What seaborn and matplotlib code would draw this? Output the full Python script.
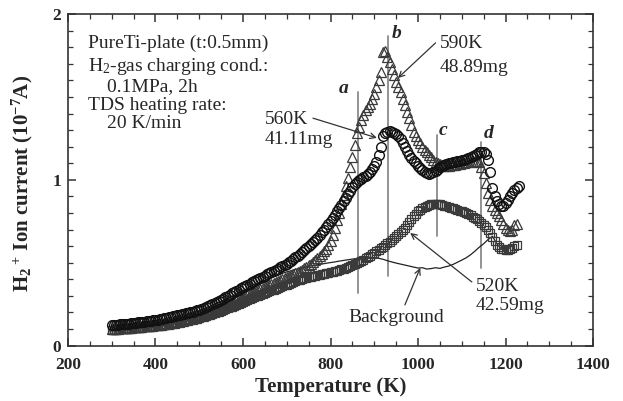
import numpy as np
import pandas as pd
import matplotlib
matplotlib.use('Agg')
import matplotlib.pyplot as plt
import seaborn as sns

# temperature grid (K), one reading every 5 K
temps = [300, 305, 310, 315, 320, 325, 330, 335, 340, 345,
         350, 355, 360, 365, 370, 375, 380, 385, 390, 395,
         400, 405, 410, 415, 420, 425, 430, 435, 440, 445,
         450, 455, 460, 465, 470, 475, 480, 485, 490, 495,
         500, 505, 510, 515, 520, 525, 530, 535, 540, 545,
         550, 555, 560, 565, 570, 575, 580, 585, 590, 595,
         600, 605, 610, 615, 620, 625, 630, 635, 640, 645,
         650, 655, 660, 665, 670, 675, 680, 685, 690, 695,
         700, 705, 710, 715, 720, 725, 730, 735, 740, 745,
         750, 755, 760, 765, 770, 775, 780, 785, 790, 795,
         800, 805, 810, 815, 820, 825, 830, 835, 840, 845,
         850, 855, 860, 865, 870, 875, 880, 885, 890, 895,
         900, 905, 910, 915, 920, 925, 930, 935, 940, 945,
         950, 955, 960, 965, 970, 975, 980, 985, 990, 995,
         1000, 1005, 1010, 1015, 1020, 1025, 1030, 1035, 1040, 1045,
         1050, 1055, 1060, 1065, 1070, 1075, 1080, 1085, 1090, 1095,
         1100, 1105, 1110, 1115, 1120, 1125, 1130, 1135, 1140, 1145,
         1150, 1155, 1160, 1165, 1170, 1175, 1180, 1185, 1190, 1195,
         1200, 1205, 1210, 1215, 1220, 1225, 1230]

# H2+ ion current (1e-7 A), 560K / 41.11mg specimen (circles)
circ_560 = [0.125, 0.125, 0.125, 0.126, 0.128, 0.129, 0.130, 0.131, 0.133, 0.134,
            0.136, 0.138, 0.140, 0.142, 0.143, 0.145, 0.147, 0.149, 0.151, 0.153,
            0.155, 0.157, 0.160, 0.162, 0.165, 0.167, 0.170, 0.173, 0.176, 0.179,
            0.182, 0.185, 0.188, 0.191, 0.195, 0.198, 0.202, 0.206, 0.210, 0.214,
            0.218, 0.222, 0.227, 0.232, 0.238, 0.244, 0.250, 0.256, 0.263, 0.270,
            0.277, 0.284, 0.292, 0.300, 0.307, 0.315, 0.322, 0.330, 0.337, 0.345,
            0.352, 0.360, 0.367, 0.374, 0.381, 0.388, 0.395, 0.402, 0.409, 0.416,
            0.423, 0.430, 0.437, 0.444, 0.451, 0.458, 0.465, 0.472, 0.480, 0.487,
            0.495, 0.503, 0.512, 0.522, 0.532, 0.543, 0.555, 0.566, 0.578, 0.589,
            0.600, 0.612, 0.625, 0.638, 0.652, 0.667, 0.683, 0.699, 0.716, 0.733,
            0.750, 0.770, 0.790, 0.810, 0.830, 0.850, 0.870, 0.892, 0.915, 0.935,
            0.955, 0.975, 0.990, 0.998, 1.005, 1.015, 1.025, 1.037, 1.050, 1.067,
            1.085, 1.110, 1.150, 1.200, 1.265, 1.280, 1.290, 1.292, 1.290, 1.284,
            1.275, 1.262, 1.245, 1.225, 1.200, 1.175, 1.150, 1.132, 1.115, 1.100,
            1.085, 1.072, 1.060, 1.050, 1.040, 1.038, 1.040, 1.047, 1.055, 1.065,
            1.075, 1.083, 1.090, 1.095, 1.100, 1.104, 1.108, 1.110, 1.112, 1.115,
            1.118, 1.121, 1.125, 1.130, 1.135, 1.142, 1.150, 1.158, 1.165, 1.168,
            1.170, 1.155, 1.120, 1.050, 0.950, 0.900, 0.870, 0.855, 0.840, 0.845,
            0.860, 0.880, 0.900, 0.920, 0.940, 0.950, 0.960]

# 590K / 48.89mg specimen (triangles)
tri_590 = [0.100, 0.101, 0.102, 0.103, 0.104, 0.105, 0.106, 0.107, 0.108, 0.109,
           0.110, 0.111, 0.113, 0.114, 0.116, 0.117, 0.119, 0.120, 0.122, 0.123,
           0.125, 0.127, 0.129, 0.131, 0.133, 0.135, 0.138, 0.140, 0.143, 0.146,
           0.149, 0.152, 0.155, 0.158, 0.162, 0.165, 0.169, 0.173, 0.177, 0.181,
           0.185, 0.189, 0.194, 0.198, 0.203, 0.208, 0.213, 0.218, 0.223, 0.228,
           0.234, 0.239, 0.245, 0.250, 0.256, 0.262, 0.268, 0.274, 0.280, 0.286,
           0.292, 0.298, 0.304, 0.310, 0.316, 0.322, 0.328, 0.334, 0.340, 0.346,
           0.352, 0.358, 0.364, 0.370, 0.376, 0.382, 0.388, 0.394, 0.400, 0.406,
           0.412, 0.418, 0.424, 0.430, 0.436, 0.443, 0.450, 0.458, 0.466, 0.475,
           0.484, 0.494, 0.505, 0.516, 0.528, 0.541, 0.555, 0.570, 0.585, 0.605,
           0.630, 0.665, 0.710, 0.755, 0.800, 0.855, 0.910, 0.960, 1.010, 1.075,
           1.140, 1.210, 1.280, 1.320, 1.360, 1.390, 1.420, 1.440, 1.460, 1.490,
           1.520, 1.560, 1.600, 1.650, 1.770, 1.780, 1.740, 1.710, 1.670, 1.630,
           1.590, 1.560, 1.530, 1.490, 1.450, 1.410, 1.370, 1.330, 1.290, 1.265,
           1.240, 1.220, 1.200, 1.182, 1.165, 1.150, 1.135, 1.122, 1.110, 1.102,
           1.095, 1.090, 1.085, 1.084, 1.085, 1.087, 1.090, 1.092, 1.095, 1.097,
           1.100, 1.102, 1.105, 1.107, 1.110, 1.112, 1.115, 1.115, 1.110, 1.080,
           1.040, 0.980, 0.920, 0.880, 0.840, 0.820, 0.800, 0.780, 0.760, 0.735,
           0.710, 0.700, 0.690, 0.700, 0.730, 0.735]

# 520K / 42.59mg specimen (squares)
sq_520 = [0.095, 0.096, 0.097, 0.098, 0.099, 0.100, 0.101, 0.102, 0.103, 0.104,
          0.105, 0.106, 0.107, 0.108, 0.109, 0.110, 0.111, 0.112, 0.113, 0.114,
          0.116, 0.117, 0.119, 0.120, 0.122, 0.124, 0.126, 0.128, 0.130, 0.132,
          0.135, 0.137, 0.140, 0.143, 0.146, 0.149, 0.152, 0.155, 0.159, 0.162,
          0.166, 0.170, 0.174, 0.178, 0.182, 0.186, 0.191, 0.195, 0.200, 0.205,
          0.210, 0.215, 0.220, 0.225, 0.231, 0.236, 0.242, 0.247, 0.253, 0.258,
          0.264, 0.269, 0.275, 0.280, 0.286, 0.291, 0.297, 0.302, 0.308, 0.313,
          0.318, 0.323, 0.328, 0.333, 0.338, 0.343, 0.348, 0.353, 0.358, 0.363,
          0.368, 0.373, 0.378, 0.383, 0.388, 0.393, 0.398, 0.402, 0.406, 0.410,
          0.413, 0.417, 0.420, 0.423, 0.426, 0.429, 0.432, 0.435, 0.438, 0.441,
          0.444, 0.447, 0.450, 0.453, 0.457, 0.461, 0.465, 0.470, 0.475, 0.480,
          0.486, 0.492, 0.498, 0.505, 0.512, 0.519, 0.527, 0.535, 0.543, 0.551,
          0.560, 0.569, 0.578, 0.587, 0.597, 0.607, 0.617, 0.627, 0.638, 0.649,
          0.660, 0.672, 0.685, 0.698, 0.712, 0.728, 0.745, 0.762, 0.780, 0.795,
          0.810, 0.820, 0.830, 0.838, 0.845, 0.849, 0.853, 0.854, 0.855, 0.854,
          0.852, 0.849, 0.845, 0.841, 0.837, 0.833, 0.829, 0.825, 0.820, 0.815,
          0.810, 0.804, 0.798, 0.792, 0.785, 0.778, 0.770, 0.761, 0.752, 0.741,
          0.730, 0.716, 0.700, 0.680, 0.655, 0.632, 0.610, 0.597, 0.585, 0.580,
          0.575, 0.576, 0.580, 0.588, 0.600, 0.610]

# background run without specimen (plain line, every 10 K)
backgr = [0.110, 0.112, 0.114, 0.116, 0.118, 0.120, 0.123, 0.126, 0.130, 0.134,
          0.138, 0.143, 0.148, 0.154, 0.160, 0.167, 0.175, 0.183, 0.192, 0.201,
          0.211, 0.221, 0.232, 0.243, 0.255, 0.267, 0.279, 0.291, 0.303, 0.316,
          0.328, 0.341, 0.354, 0.367, 0.380, 0.392, 0.404, 0.415, 0.426, 0.436,
          0.445, 0.452, 0.460, 0.466, 0.472, 0.478, 0.483, 0.488, 0.492, 0.497,
          0.501, 0.505, 0.510, 0.514, 0.518, 0.522, 0.526, 0.530, 0.532, 0.533,
          0.530, 0.527, 0.521, 0.512, 0.505, 0.498, 0.492, 0.486, 0.480, 0.474,
          0.468, 0.470, 0.462, 0.465, 0.470, 0.466, 0.474, 0.480, 0.490, 0.503,
          0.516, 0.530, 0.548, 0.570, 0.594, 0.615, 0.640, 0.660, 0.615, 0.585,
          0.578, 0.590]
bg_temps = temps[::2][:len(backgr)]

# peak marker lines a-d: position, bottom, top
peak_names = ['a', 'b', 'c', 'd']
peak_T = [863, 931, 1043, 1145]
peak_lo = [0.32, 0.42, 0.66, 0.47]
peak_hi = [1.53, 1.87, 1.27, 1.23]
# where the letter sits next to the top of each line
label_T = [829, 952, 1057, 1162]
label_y = [1.55, 1.885, 1.30, 1.28]

sns.set_style('ticks')
plt.rcParams['font.family'] = ['Liberation Serif', 'DejaVu Serif']
plt.rcParams['mathtext.fontset'] = 'custom'
plt.rcParams['mathtext.rm'] = 'Liberation Serif'
plt.rcParams['mathtext.it'] = 'Liberation Serif:italic'
plt.rcParams['mathtext.bf'] = 'Liberation Serif:bold'

fig = plt.figure(figsize=(6.23, 4.01), dpi=100)
ax = fig.add_axes([0.109, 0.138, 0.843, 0.827])

# vertical peak lines go underneath
for T, lo, hi in zip(peak_T, peak_lo, peak_hi):
    ax.plot([T, T], [lo, hi], color='#8a8a8a', lw=1.3, zorder=1)

sns.lineplot(x=bg_temps, y=backgr, color='#222222', lw=0.9, ax=ax, zorder=2)

mk = dict(linestyle='', markerfacecolor='none', ax=ax, zorder=3)
sns.lineplot(x=temps[:len(sq_520)], y=sq_520, marker='s', markersize=6,
             markeredgewidth=0.9, markeredgecolor='#3a3a3a', **mk)
sns.lineplot(x=temps[:len(tri_590)], y=tri_590, marker='^', markersize=7,
             markeredgewidth=0.9, markeredgecolor='#3a3a3a', **mk)
sns.lineplot(x=temps, y=circ_560, marker='o', markersize=7,
             markeredgewidth=1.0, markeredgecolor='#111111', **mk)

ax.set_xlim(200, 1400)
ax.set_ylim(0, 2)
ax.set_xticks([200, 400, 600, 800, 1000, 1200, 1400])
ax.set_xticks(np.arange(200, 1401, 50), minor=True)
ax.set_yticks([0, 1, 2])
ax.set_yticks(np.arange(0, 2.01, 0.1), minor=True)
ax.tick_params(which='both', direction='in', top=True, right=True, color='#333333')
ax.tick_params(which='major', length=6, width=1.1, labelsize=12.5)
ax.tick_params(axis='x', which='major', pad=8)
ax.tick_params(axis='y', which='major', pad=5)
ax.tick_params(which='minor', length=3.5, width=0.9)
for lab in ax.get_xticklabels() + ax.get_yticklabels():
    lab.set_fontweight('bold')
for sp in ax.spines.values():
    sp.set_linewidth(1.2)
    sp.set_color('#333333')

ax.set_xlabel('Temperature (K)', fontsize=15, fontweight='bold')
ax.set_ylabel(r'$\mathbf{H_2}^{\ \mathbf{+}}$ Ion current (10$^{\mathbf{-7}}$A)',
              fontsize=15, fontweight='bold')
ax.xaxis.set_label_coords(0.5, -0.094)
ax.yaxis.set_label_coords(-0.063, 0.49)

# conditions text block
fs = 14
ax.text(246, 1.826, 'PureTi-plate (t:0.5mm)', fontsize=fs, va='center')
ax.text(246, 1.681, r'H$_\mathrm{2}$-gas charging cond.:', fontsize=fs, va='center')
ax.text(290, 1.560, '0.1MPa, 2h', fontsize=fs, va='center')
ax.text(246, 1.450, 'TDS heating rate:', fontsize=fs, va='center')
ax.text(290, 1.338, '20 K/min', fontsize=fs, va='center')

for name, T, y in zip(peak_names, label_T, label_y):
    ax.text(T, y, name, fontsize=14, fontweight='bold', fontstyle='italic',
            ha='center', va='center')

arr = dict(arrowstyle='->', color='#333333', lw=0.9, shrinkA=0, shrinkB=0)
ax.text(650, 1.361, '560K', fontsize=fs, va='center')
ax.text(650, 1.241, '41.11mg', fontsize=fs, va='center')
ax.annotate('', xy=(906, 1.253), xytext=(760, 1.372), arrowprops=arr)
ax.text(1050, 1.825, '590K', fontsize=fs, va='center')
ax.text(1050, 1.68, '48.89mg', fontsize=fs, va='center')
ax.annotate('', xy=(954, 1.614), xytext=(1040, 1.826), arrowprops=arr)
ax.text(1132, 0.354, '520K', fontsize=fs, va='center')
ax.text(1132, 0.245, '42.59mg', fontsize=fs, va='center')
ax.annotate('', xy=(982, 0.68), xytext=(1123, 0.384), arrowprops=arr)
ax.text(951, 0.167, 'Background', fontsize=fs, va='center', ha='center')
ax.annotate('', xy=(1005, 0.469), xytext=(970, 0.246), arrowprops=arr)

fig.savefig('out.png', dpi=100)
